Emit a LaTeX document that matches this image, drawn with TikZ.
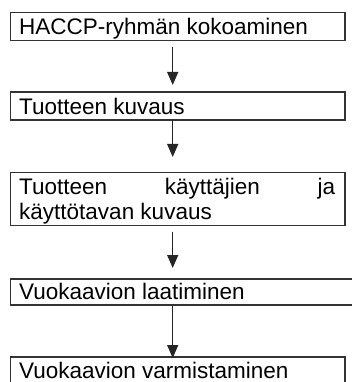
\documentclass[tikz,border=0pt]{standalone}
\usepackage{fontspec}
\setmainfont{Liberation Sans}
\usetikzlibrary{arrows.meta}
\begin{document}
\begin{tikzpicture}[x=1pt,y=-1pt,
  box/.style={draw=black!80, line width=1.4pt, rectangle, inner sep=0pt, outer sep=0pt, anchor=north west},
  txt/.style={anchor=base west, inner sep=0pt, font=\fontsize{22.5}{25}\selectfont, text=black},
  arr/.style={draw=black!85, fill=black!85, line width=1.4pt, -{Triangle[width=11pt,length=13pt]}}]
\useasboundingbox (0,0) rectangle (351,382);
\node[box, minimum width=334.5pt, minimum height=28pt] (b1) at (10.5,12.7) {};
\node[box, minimum width=334.5pt, minimum height=28pt] (b2) at (10.5,92) {};
\node[box, minimum width=334.5pt, minimum height=53pt] (b3) at (10.5,172.7) {};
\node[box, minimum width=354.5pt, minimum height=26pt] (b4) at (10.5,279) {};
\node[box, minimum width=334.5pt, minimum height=43pt] (b5) at (10.5,357) {};
\node[txt] (t1) at (19,34.5) {HACCP-ryhmän kokoaminen};
\node[txt] (t2) at (19,115) {Tuotteen kuvaus};
\node[txt] (t3a) at (19,194) {\makebox[316pt][s]{Tuotteen käyttäjien ja}};
\node[txt] (t3b) at (19,219) {käyttötavan kuvaus};
\node[txt] (t4) at (19,299.5) {Vuokaavion laatiminen};
\node[txt] (t5) at (19,378) {Vuokaavion varmistaminen};
\draw[arr] ([xshift=162.2pt,yshift=-6pt]b1.south west) -- ([xshift=162.2pt,yshift=7pt]b2.north west);
\draw[arr] ([xshift=162.2pt]b2.south west) -- ([xshift=162.2pt,yshift=15.7pt]b3.north west);
\draw[arr] ([xshift=162.2pt,yshift=-6pt]b3.south west) -- ([xshift=162.2pt,yshift=11pt]b4.north west);
\draw[arr] ([xshift=162.2pt]b4.south west) -- ([xshift=162.2pt,yshift=-1pt]b5.north west);
\end{tikzpicture}
\end{document}
